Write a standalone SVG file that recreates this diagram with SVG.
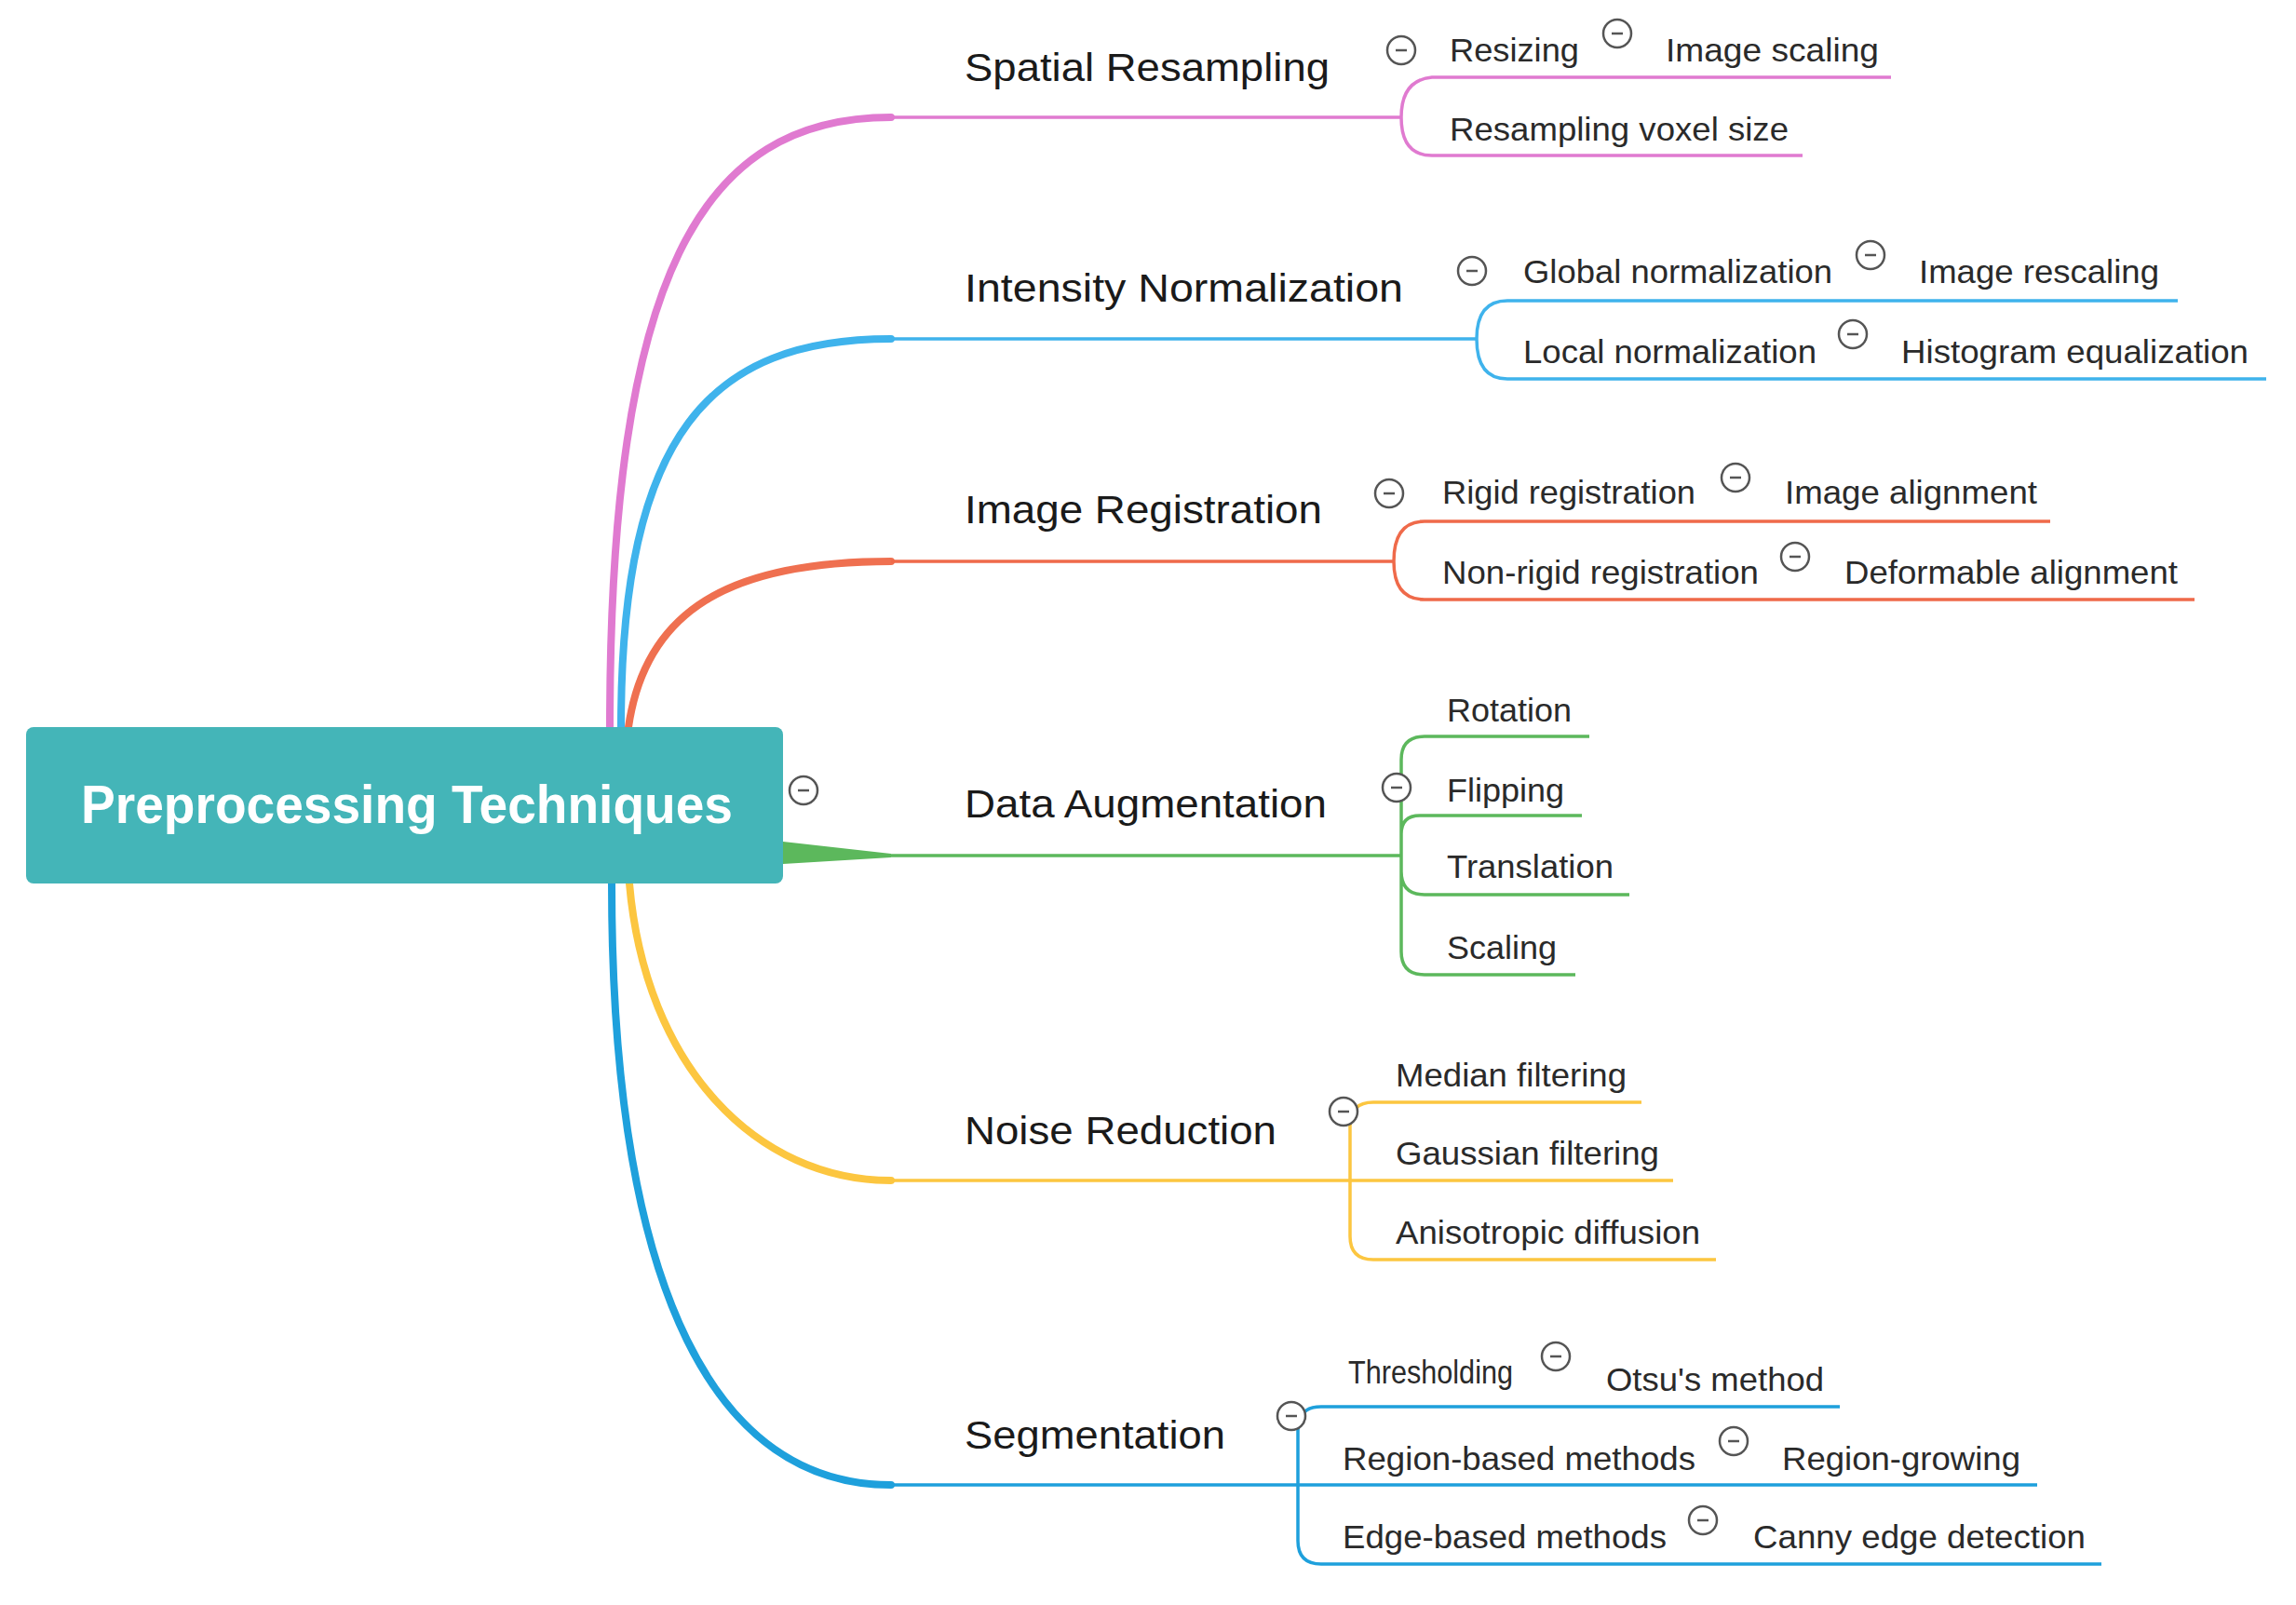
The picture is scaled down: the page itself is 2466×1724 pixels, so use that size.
<svg xmlns="http://www.w3.org/2000/svg" width="2466" height="1724" viewBox="0 0 2466 1724">
<style>
.m{font-family:"Liberation Sans",Arial,sans-serif;font-size:43px;fill:#1a1a1a;dominant-baseline:central}
.c{font-family:"Liberation Sans",Arial,sans-serif;font-size:35px;fill:#2a2a2a;dominant-baseline:central}
.tr{fill:none;stroke-width:8;stroke-linecap:round}
.ln{fill:none;stroke-width:3.5}
.col circle{fill:#fff;stroke:#555;stroke-width:2.5}
.col line{stroke:#555;stroke-width:2.5}
</style>
<defs>
<g id="ci" class="col"><circle r="15"/><line x1="-6" y1="0" x2="6" y2="0"/></g>
</defs>
<rect width="2466" height="1724" fill="#fff"/>
<g transform="translate(-7,-4)">
<g id="connectors">
<path class="tr" stroke="#e07ad0" d="M662 785 C662 300 760 130 964 130"/>
<path class="ln" stroke="#e07ad0" d="M964 130 H1512 M1512 130 Q1512 90 1545 87 H2038 M1512 130 Q1512 171 1545 171 H1943"/>
<path class="tr" stroke="#3fb3ec" d="M674 785 C674 470 770 368 964 368"/>
<path class="ln" stroke="#3fb3ec" d="M964 368 H1593 M1593 368 Q1593 327 1626 327 H2346 M1593 368 Q1593 411 1626 411 H2441"/>
<path class="tr" stroke="#ef7050" stroke-width="12" d="M682 785 C700 660 790 607 964 607"/>
<path class="ln" stroke="#ef6a4a" d="M964 607 H1504 M1504 607 Q1504 564 1537 564 H2209 M1504 607 Q1504 648 1537 648 H2364"/>
<path fill="#5cb85c" d="M848 908 L964 921 L964 925 L848 932 Z"/>
<path class="ln" stroke="#5cb85c" d="M964 923 H1512 M1512 923 V820 Q1512 795 1537 795 H1714 M1512 900 Q1512 880 1532 880 H1706 M1512 923 V1026 Q1512 1051 1537 1051 H1699 M1512 940 Q1512 965 1537 965 H1757"/>
<path class="tr" stroke="#fcc640" stroke-width="11" d="M683 953 C700 1150 820 1272 964 1272"/>
<path class="ln" stroke="#fcc640" d="M964 1272 H1804 M1457 1272 V1213 Q1457 1188 1482 1188 H1770 M1457 1272 V1332 Q1457 1357 1482 1357 H1850"/>
<path class="tr" stroke="#1ea0dc" d="M664 953 C664 1400 780 1599 964 1599"/>
<path class="ln" stroke="#1ea0dc" d="M964 1599 H2195 M1401 1599 V1540 Q1401 1515 1426 1515 H1983 M1401 1599 V1659 Q1401 1684 1426 1684 H2264"/>
</g>
<g id="root">
<rect x="35" y="785" width="813" height="168" rx="8" fill="#44b5b8"/>
<text x="444" y="867" font-family="Liberation Sans,Arial,sans-serif" font-size="58" font-weight="bold" fill="#fff" text-anchor="middle" dominant-baseline="central" textLength="700" lengthAdjust="spacingAndGlyphs">Preprocessing Techniques</text>
<use href="#ci" x="870" y="853"/>
</g>
<g id="spatial">
<text class="m" x="1043" y="76" textLength="392" lengthAdjust="spacingAndGlyphs">Spatial Resampling</text>
<use href="#ci" x="1512" y="58"/>
<text class="c" x="1564" y="57" textLength="139" lengthAdjust="spacingAndGlyphs">Resizing</text>
<use href="#ci" x="1744" y="40"/>
<text class="c" x="1796" y="57" textLength="229" lengthAdjust="spacingAndGlyphs">Image scaling</text>
<text class="c" x="1564" y="142" textLength="364" lengthAdjust="spacingAndGlyphs">Resampling voxel size</text>
</g>
<g id="intensity">
<text class="m" x="1043" y="313" textLength="471" lengthAdjust="spacingAndGlyphs">Intensity Normalization</text>
<use href="#ci" x="1588" y="295"/>
<text class="c" x="1643" y="295" textLength="332" lengthAdjust="spacingAndGlyphs">Global normalization</text>
<use href="#ci" x="2016" y="278"/>
<text class="c" x="2068" y="295" textLength="258" lengthAdjust="spacingAndGlyphs">Image rescaling</text>
<text class="c" x="1643" y="381" textLength="315" lengthAdjust="spacingAndGlyphs">Local normalization</text>
<use href="#ci" x="1997" y="363"/>
<text class="c" x="2049" y="381" textLength="373" lengthAdjust="spacingAndGlyphs">Histogram equalization</text>
</g>
<g id="registration">
<text class="m" x="1043" y="551" textLength="384" lengthAdjust="spacingAndGlyphs">Image Registration</text>
<use href="#ci" x="1499" y="534"/>
<text class="c" x="1556" y="532" textLength="272" lengthAdjust="spacingAndGlyphs">Rigid registration</text>
<use href="#ci" x="1871" y="517"/>
<text class="c" x="1924" y="532" textLength="271" lengthAdjust="spacingAndGlyphs">Image alignment</text>
<text class="c" x="1556" y="618" fill="#111" textLength="340" lengthAdjust="spacingAndGlyphs">Non-rigid registration</text>
<use href="#ci" x="1935" y="602"/>
<text class="c" x="1988" y="618" textLength="358" lengthAdjust="spacingAndGlyphs">Deformable alignment</text>
</g>
<g id="augmentation">
<text class="m" x="1043" y="867" textLength="389" lengthAdjust="spacingAndGlyphs">Data Augmentation</text>
<use href="#ci" x="1507" y="850"/>
<text class="c" x="1561" y="766" textLength="134" lengthAdjust="spacingAndGlyphs">Rotation</text>
<text class="c" x="1561" y="852" textLength="126" lengthAdjust="spacingAndGlyphs">Flipping</text>
<text class="c" x="1561" y="934" textLength="179" lengthAdjust="spacingAndGlyphs">Translation</text>
<text class="c" x="1561" y="1021" textLength="118" lengthAdjust="spacingAndGlyphs">Scaling</text>
</g>
<g id="noise">
<text class="m" x="1043" y="1218" textLength="335" lengthAdjust="spacingAndGlyphs">Noise Reduction</text>
<use href="#ci" x="1450" y="1198"/>
<text class="c" x="1506" y="1158" textLength="248" lengthAdjust="spacingAndGlyphs">Median filtering</text>
<text class="c" x="1506" y="1242" fill="#111" textLength="283" lengthAdjust="spacingAndGlyphs">Gaussian filtering</text>
<text class="c" x="1506" y="1327" textLength="327" lengthAdjust="spacingAndGlyphs">Anisotropic diffusion</text>
</g>
<g id="segmentation">
<text class="m" x="1043" y="1545" textLength="280" lengthAdjust="spacingAndGlyphs">Segmentation</text>
<use href="#ci" x="1394" y="1525"/>
<text class="c" x="1455" y="1477" font-size="28" textLength="177" lengthAdjust="spacingAndGlyphs">Thresholding</text>
<use href="#ci" x="1678" y="1461"/>
<text class="c" x="1732" y="1485" textLength="234" lengthAdjust="spacingAndGlyphs">Otsu's method</text>
<text class="c" x="1449" y="1570" fill="#111" textLength="379" lengthAdjust="spacingAndGlyphs">Region-based methods</text>
<use href="#ci" x="1869" y="1552"/>
<text class="c" x="1921" y="1570" textLength="256" lengthAdjust="spacingAndGlyphs">Region-growing</text>
<text class="c" x="1449" y="1654" textLength="348" lengthAdjust="spacingAndGlyphs">Edge-based methods</text>
<use href="#ci" x="1836" y="1637"/>
<text class="c" x="1890" y="1654" textLength="357" lengthAdjust="spacingAndGlyphs">Canny edge detection</text>
</g>
</g>
</svg>
